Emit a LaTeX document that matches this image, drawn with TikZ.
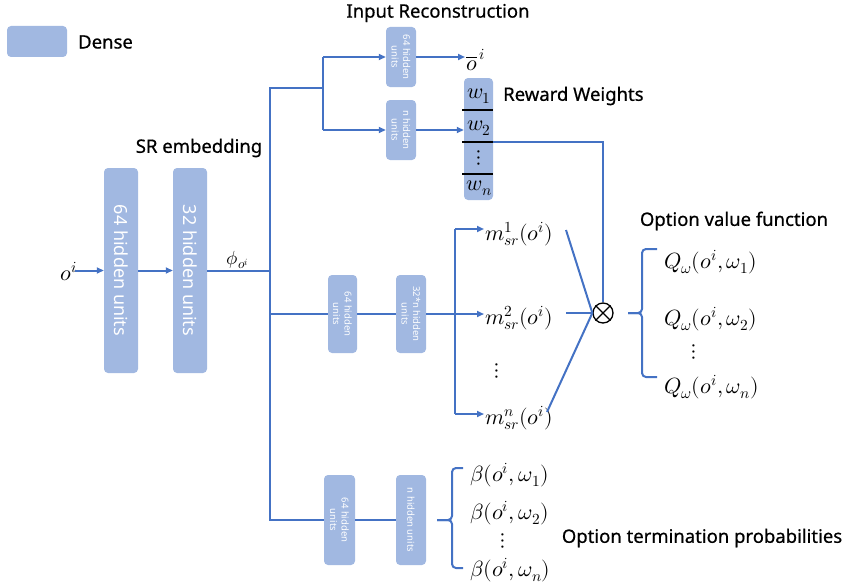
\documentclass[tikz,border=0pt]{standalone}
\usepackage{fontspec}
\usepackage{unicode-math}
\setmainfont{Noto Sans}
\newfontfamily\lblfont[FakeBold=0.6]{Noto Sans}
\setmathfont{Latin Modern Math}
\usetikzlibrary{arrows.meta}
\definecolor{densefill}{HTML}{A1B8E1}
\definecolor{lineblue}{HTML}{4472C4}
\tikzset{
  dense/.style={fill=densefill, rounded corners=4pt, draw=none, inner sep=0pt},
  boxtxt/.style={rotate=-90, text=white, font=\fontsize{9.5}{11.5}\selectfont, align=center, inner sep=0pt},
  bigtxt/.style={rotate=-90, text=white, font=\fontsize{18}{20}\selectfont, inner sep=0pt},
  conn/.style={draw=lineblue, line width=2pt},
  arr/.style={conn, -{Triangle[length=7pt,width=6pt]}},
  sep/.style={draw=black, line width=1.2pt},
  lbl/.style={font=\lblfont\fontsize{18.5}{22}\selectfont, inner sep=0pt},
  mth/.style={font=\fontsize{22}{25}\selectfont, inner sep=1pt},
}
\begin{document}
\begin{tikzpicture}[x=1pt,y=-1pt]
\useasboundingbox (0,0) rectangle (851,586);
% legend
\node[dense, minimum width=60pt, minimum height=31pt] (leg) at (37,41.5) {};
\node[lbl, anchor=west] (legt) at (78,42) {Dense};
% SR embedding
\node[lbl] (sre) at (199,148) {SR embedding};
\node[dense, minimum width=34pt, minimum height=205pt] (b1) at (121,270.5) {};
\node[bigtxt] (b1t) at (b1) {64 hidden units};
\node[dense, minimum width=34pt, minimum height=205pt] (b2) at (190,270.5) {};
\node[bigtxt] (b2t) at (b2) {32 hidden units};
\node[mth, font=\fontsize{22}{26}\selectfont] (oi) at (69,272) {$o^{i}$};
\coordinate (oiA) at (75,270.5);
\draw[arr] (oiA) -- (b1.west);
\draw[arr] (b1.east) -- (b2.west);
\coordinate (J) at (270,270.5);
\draw[conn] (b2.east) -- (J);
\node[mth, font=\fontsize{19}{22}\selectfont] (phi) at (238,260) {$\phi_{o^{i}}$};
% trunk
\coordinate (Jt) at (270,88);
\coordinate (Jm) at (270,314);
\coordinate (Jb) at (270,520);
\coordinate (T) at (323,88);
\coordinate (T1) at (323,57);
\coordinate (T2) at (323,130);
% top branch
\node[dense, minimum width=30pt, minimum height=60pt] (b3) at (401,57) {};
\node[boxtxt] (b3t) at (b3) {64 hidden\\units};
\node[dense, minimum width=30pt, minimum height=60pt] (b4) at (401,130) {};
\node[boxtxt] (b4t) at (b4) {n hidden\\units};
\node[lbl] (irec) at (438,13) {Input Reconstruction};
\node[mth, anchor=west] (obar) at (465,60) {$\overline{o}^{\,i}$};
\draw[conn] (T) -- (Jt) -- (Jb) -- (0,520 -| 324,0);
\draw[conn] (T1) -- (T2);
\draw[arr] (T1) -- (b3.west);
\draw[arr] (T2) -- (b4.west);
\draw[arr] (b3.east) -- (b3.east -| obar.west);
% reward weights
\node[dense, minimum width=29pt, minimum height=122pt] (ws) at (478.5,139) {};
\draw[sep] (462,110) -- (493,110);
\draw[sep] (462,142) -- (493,142);
\draw[sep] (462,174) -- (493,174);
\node[mth] (w1) at (479,96) {$w_1$};
\node[mth] (w2) at (479,128) {$w_2$};
\node[mth] (wd) at (479,158) {$\vdots$};
\node[mth] (wn) at (479,188) {$w_n$};
\draw[arr] (b4.east) -- (b4.east -| ws.west);
\node[lbl, anchor=west] (rw) at (503,96) {Reward Weights};
% otimes
\node[circle, draw=black, line width=1.3pt, minimum size=20pt, inner sep=0pt] (ot) at (603,313) {};
\draw[black, line width=1.3pt] (ot.north west) -- (ot.south east) (ot.north east) -- (ot.south west);
\coordinate (wsr) at (493,142);
\coordinate (wc) at (603,142);
\draw[conn] (wsr) -- (wc) -- (ot.north);
% middle branch
\node[dense, minimum width=29pt, minimum height=78pt] (b5) at (342.5,314) {};
\node[boxtxt] (b5t) at (b5) {64 hidden\\units};
\node[dense, minimum width=30pt, minimum height=78pt] (b6) at (411,314) {};
\node[boxtxt] (b6t) at (b6) {32*n hidden\\units};
\coordinate (M) at (455,314);
\coordinate (M1) at (455,229);
\coordinate (M3) at (455,414);
\draw[conn] (Jm) -- (b5.west);
\draw[conn] (b5.east) -- (b6.west);
\draw[conn] (b6.east) -- (M);
\draw[conn] (M1) -- (M3);
\node[mth, anchor=west] (m1) at (484,234) {$m_{sr}^{1}(o^{i})$};
\node[mth, anchor=west] (m2) at (484,318) {$m_{sr}^{2}(o^{i})$};
\node[mth] (md) at (497,371) {$\vdots$};
\node[mth, anchor=west] (mn) at (484,418) {$m_{sr}^{n}(o^{i})$};
\draw[arr] (M1) -- (M1 -| m1.west);
\draw[arr] (M) -- (M -| m2.west);
\draw[arr] (M3) -- (M3 -| mn.west);
\coordinate (m1e) at (566,230);
\coordinate (m2e) at (566,313);
\coordinate (mne) at (547,412);
\draw[conn] (m1e) -- (ot.west);
\draw[conn] (m2e) -- (ot.west);
\draw[conn] (mne) -- (ot.west);
% option value function
\node[lbl] (ovf) at (734,221) {Option value function};
\coordinate (qt) at (657,249);
\coordinate (qb) at (657,377);
\coordinate (qm) at (642,313);
\coordinate (qtip) at (628,313);
\draw[conn, rounded corners=4pt] (qt) -- (642,249) -- (qm) -- (qtip);
\draw[conn, rounded corners=4pt] (qb) -- (642,377) -- (qm) -- (qtip);
\node[mth, anchor=west] (q1) at (663,262) {$Q_{\omega}(o^{i},\omega_{1})$};
\node[mth, anchor=west] (q2) at (663,319) {$Q_{\omega}(o^{i},\omega_{2})$};
\node[mth] (qd) at (694,352) {$\vdots$};
\node[mth, anchor=west] (qn) at (663,387) {$Q_{\omega}(o^{i},\omega_{n})$};
% bottom branch
\node[dense, minimum width=31pt, minimum height=90pt] (b7) at (339.5,520) {};
\node[boxtxt] (b7t) at (b7) {64 hidden\\units};
\node[dense, minimum width=30pt, minimum height=90pt] (b8) at (411,520) {};
\node[boxtxt] (b8t) at (b8) {n hidden units};
\draw[conn] (b7.east) -- (b8.west);
\coordinate (bt) at (463,468);
\coordinate (bb) at (463,568);
\coordinate (bm) at (452,520);
\coordinate (btip) at (437,520);
\draw[conn, rounded corners=4pt] (bt) -- (452,468) -- (bm) -- (btip);
\draw[conn, rounded corners=4pt] (bb) -- (452,568) -- (bm) -- (btip);
\node[mth, anchor=west] (be1) at (469,475) {$\beta(o^{i},\omega_{1})$};
\node[mth, anchor=west] (be2) at (469,513) {$\beta(o^{i},\omega_{2})$};
\node[mth] (bed) at (503,541) {$\vdots$};
\node[mth, anchor=west] (ben) at (469,570) {$\beta(o^{i},\omega_{n})$};
\node[lbl] (otp) at (702,538) {Option termination probabilities};
\end{tikzpicture}
\end{document}
